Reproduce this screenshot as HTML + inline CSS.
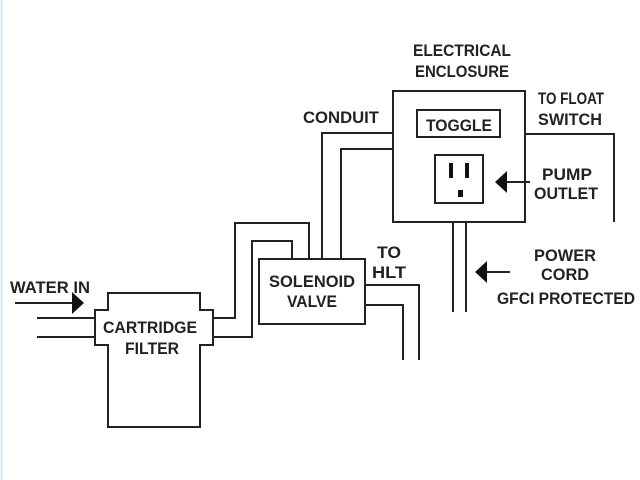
<!DOCTYPE html>
<html><head><style>body{margin:0;background:#fff}svg{display:block}</style></head><body>
<svg width="640" height="480" viewBox="0 0 640 480" xmlns="http://www.w3.org/2000/svg">
<rect width="640" height="480" fill="#fff"/>
<line x1="1.5" y1="0" x2="1.5" y2="480" stroke="#d6e8f7" stroke-width="2"/>
<g fill="none" stroke="#222" stroke-width="2">
<path d="M108 310 V293 H200 V310 H213 V345 H200 V427 H108 V345 H95 V310 Z"/>
<line x1="37" y1="318" x2="95" y2="318"/>
<line x1="37" y1="337" x2="95" y2="337"/>
<line x1="15" y1="303" x2="74" y2="303"/>
<path d="M213 318 H235 V223 H309 V259"/>
<path d="M213 337 H252 V241 H292 V259"/>
<rect x="259" y="259" width="106" height="65"/>
<path d="M322 259 V133 H393"/>
<path d="M341 259 V149 H393"/>
<rect x="393" y="91" width="132" height="131"/>
<rect x="417" y="110" width="83" height="27"/>
<rect x="435" y="155" width="48" height="48"/>
<path d="M525 134 H614 V222"/>
<line x1="505" y1="182" x2="530" y2="182"/>
<line x1="453" y1="222" x2="453" y2="312"/>
<line x1="466" y1="222" x2="466" y2="312"/>
<line x1="485" y1="272" x2="510" y2="272"/>
<path d="M365 285 H419 V360"/>
<path d="M365 305 H403 V360"/>
</g>
<g fill="#111">
<polygon points="72,292 84,303 72,314"/>
<polygon points="495,182 507,171 507,193"/>
<polygon points="475,272 487,261 487,283"/>
<rect x="449" y="163" width="4" height="15"/>
<rect x="465" y="163" width="4" height="15"/>
<rect x="458" y="190" width="5" height="7"/>
</g>
<g font-family="Liberation Sans, sans-serif" font-weight="bold" font-size="17" fill="#222" text-anchor="middle">
<text x="462" y="56" textLength="98" lengthAdjust="spacingAndGlyphs">ELECTRICAL</text>
<text x="462" y="77" textLength="94" lengthAdjust="spacingAndGlyphs">ENCLOSURE</text>
<text x="341" y="123" textLength="76" lengthAdjust="spacingAndGlyphs">CONDUIT</text>
<text x="571" y="104" textLength="66" lengthAdjust="spacingAndGlyphs">TO FLOAT</text>
<text x="570" y="125" textLength="64" lengthAdjust="spacingAndGlyphs">SWITCH</text>
<text x="459" y="131" textLength="66" lengthAdjust="spacingAndGlyphs">TOGGLE</text>
<text x="567" y="180" textLength="50" lengthAdjust="spacingAndGlyphs">PUMP</text>
<text x="566" y="199" textLength="64" lengthAdjust="spacingAndGlyphs">OUTLET</text>
<text x="565" y="261" textLength="62" lengthAdjust="spacingAndGlyphs">POWER</text>
<text x="565" y="280" textLength="48" lengthAdjust="spacingAndGlyphs">CORD</text>
<text x="566" y="304" textLength="138" lengthAdjust="spacingAndGlyphs">GFCI PROTECTED</text>
<text x="389" y="258" textLength="24" lengthAdjust="spacingAndGlyphs">TO</text>
<text x="389" y="278" textLength="34" lengthAdjust="spacingAndGlyphs">HLT</text>
<text x="312" y="287" textLength="86" lengthAdjust="spacingAndGlyphs">SOLENOID</text>
<text x="312" y="307" textLength="50" lengthAdjust="spacingAndGlyphs">VALVE</text>
<text x="150" y="333" textLength="94" lengthAdjust="spacingAndGlyphs">CARTRIDGE</text>
<text x="152" y="354" textLength="54" lengthAdjust="spacingAndGlyphs">FILTER</text>
<text x="50" y="293" textLength="80" lengthAdjust="spacingAndGlyphs">WATER IN</text>
</g>
</svg>
</body></html>
